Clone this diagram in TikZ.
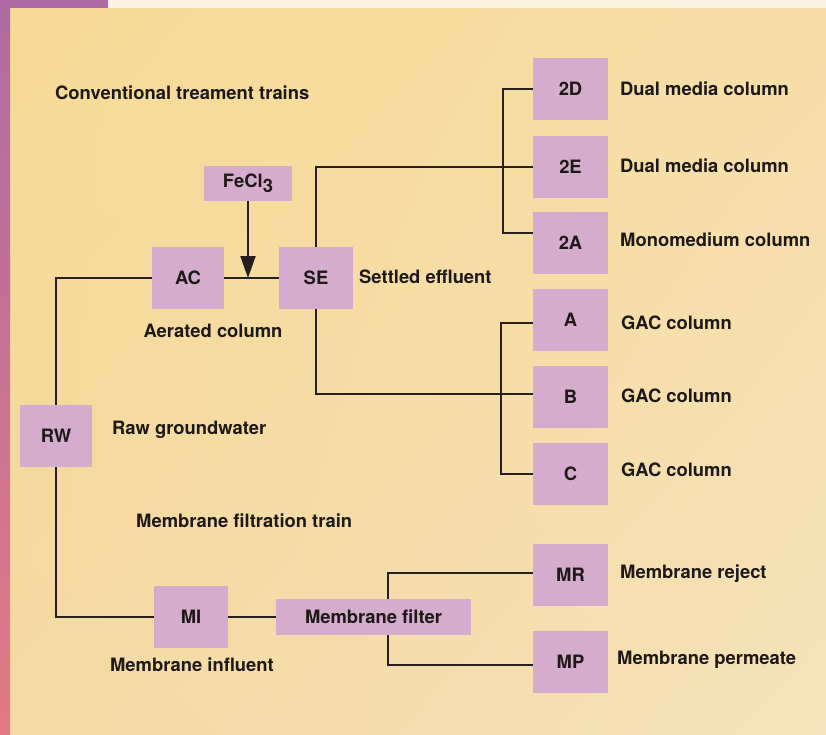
\documentclass[tikz,border=0pt]{standalone}
\usepackage{fontspec}
\setmainfont{TeX Gyre Heros}
\usetikzlibrary{arrows.meta,shadings}
\definecolor{boxcol}{RGB}{212,172,206}
\definecolor{linecol}{RGB}{40,32,32}
\definecolor{bgA}{RGB}{246,218,148}
\definecolor{bgB}{RGB}{246,222,168}
\definecolor{bgC}{RGB}{244,218,164}
\definecolor{bgD}{RGB}{246,226,186}
\definecolor{cream}{RGB}{250,244,224}
\definecolor{stripTop}{RGB}{176,106,162}
\definecolor{stripBot}{RGB}{226,122,132}
\definecolor{txtcol}{RGB}{30,24,24}
\tikzset{
  box/.style={fill=boxcol, minimum width=75pt, minimum height=62pt, inner sep=0pt, text=txtcol, font=\fontsize{18.4}{22}\selectfont\bfseries},
  lbl/.style={inner sep=0pt, text=txtcol, font=\fontsize{18.4}{22}\selectfont\bfseries},
  conn/.style={draw=linecol, line width=2pt}
}
\begin{document}
\begin{tikzpicture}[x=1pt,y=-1pt]
% background
\useasboundingbox (0,0) rectangle (826,734);
\fill[cream] (0,0) rectangle (826,734);
\shade[upper left=bgA, upper right=bgB, lower left=bgC, lower right=bgD] (10,8) rectangle (826,734);
\shade[top color=stripTop, bottom color=stripBot] (0,0) rectangle (10,734);
\fill[stripTop] (0,0) rectangle (108,8);

% nodes
\node[box, minimum width=88pt, minimum height=35pt] (fe) at (248,183.5) {FeCl\raisebox{-0.5ex}{3}};
\node[box, minimum width=72pt] (ac) at (188,278) {AC};
\node[box, minimum width=74pt] (se) at (316,278) {SE};
\node[box] (d2) at (570.5,89) {2D};
\node[box] (e2) at (570.5,166.5) {2E};
\node[box] (a2) at (570.5,243) {2A};
\node[box] (ga) at (570.5,320) {A};
\node[box] (gb) at (570.5,396.5) {B};
\node[box] (gc) at (570.5,473.5) {C};
\node[box, minimum width=72pt] (rw) at (56,436) {RW};
\node[box, minimum width=74pt] (mi) at (191,617) {MI};
\node[box, minimum width=195pt, minimum height=36pt] (mf) at (373.5,617) {Membrane filter};
\node[box] (mr) at (570.5,575) {MR};
\node[box] (mp) at (570.5,662) {MP};

% labels
\node[lbl, anchor=west] (t1) at (55,93) {Conventional treament trains};
\node[lbl, anchor=west] (t2) at (359,277) {Settled effluent};
\node[lbl] (t3) at (213,331) {Aerated column};
\node[lbl, anchor=west] (t4) at (620,89) {Dual media column};
\node[lbl, anchor=west] (t5) at (620,166) {Dual media column};
\node[lbl, anchor=west] (t6) at (620,240) {Monomedium column};
\node[lbl, anchor=west] (t7) at (621,323) {GAC column};
\node[lbl, anchor=west] (t8) at (621,396) {GAC column};
\node[lbl, anchor=west] (t9) at (621,470) {GAC column};
\node[lbl, anchor=west] (t10) at (112,430) {Raw groundwater};
\node[lbl, anchor=west] (t11) at (136,521) {Membrane filtration train};
\node[lbl] (t12) at (192,665) {Membrane influent};
\node[lbl, anchor=west] (t13) at (620,574) {Membrane reject};
\node[lbl, anchor=west] (t14) at (617,660) {Membrane permeate};

% junction coordinates
\coordinate (j) at (248,278);
\coordinate (up) at (503,89);
\coordinate (dn) at (503,233);
\coordinate (gu) at (501,323);
\coordinate (gd) at (501,474);
\coordinate (mu) at (388,573);
\coordinate (md) at (388,665);

% connectors
\draw[conn] (ac.west) -| (rw.north);
\draw[conn] (ac.east) -- (se.west);
\draw[conn, -{Triangle[length=22pt,width=15pt]}] (fe.south) -- (j);
\draw[conn] (se.north) |- (e2.west);
\draw[conn] (d2.west) -- (up) -- (dn) -- (dn -| a2.west);
\draw[conn] (se.south) |- ([yshift=2.5pt]gb.west);
\draw[conn] (gu -| ga.west) -- (gu) -- (gd) -- (gd -| gc.west);
\draw[conn] (rw.south) |- (mi.west);
\draw[conn] (mi.east) -- (mf.west);
\draw[conn] (mu -| mr.west) -- (mu) -- (mu |- mf.north);
\draw[conn] (md -| mp.west) -- (md) -- (md |- mf.south);
\end{tikzpicture}
\end{document}
